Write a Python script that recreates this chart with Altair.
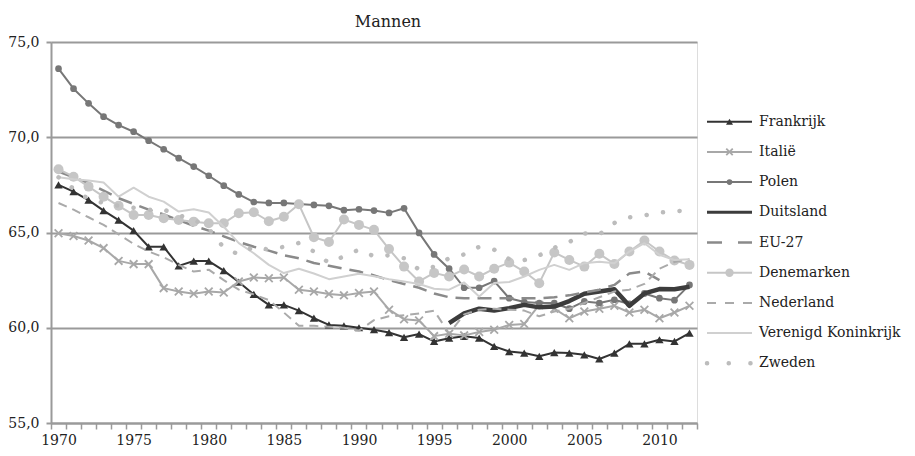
import altair as alt
import pandas as pd

years = list(range(1970, 2013))

frankrijk = [67.5, 67.15, 66.7, 66.15, 65.65, 65.1, 64.25, 64.25, 63.25, 63.5,
             63.5, 63.0, 62.4, 61.75, 61.2, 61.2, 60.9, 60.5, 60.15, 60.1,
             60.0, 59.9, 59.75, 59.5, 59.67, 59.28, 59.45, 59.55, 59.46, 59.02,
             58.75, 58.67, 58.5, 58.7, 58.67, 58.58, 58.36, 58.67, 59.16, 59.16,
             59.37, 59.28, 59.72]
italie = [64.96, 64.82, 64.58, 64.18, 63.51, 63.34, 63.34, 62.08, 61.9, 61.78,
          61.9, 61.85, 62.43, 62.64, 62.6, 62.64, 61.99, 61.9, 61.77, 61.7,
          61.82, 61.9, 60.95, 60.45, 60.38, 59.56, 59.68, 59.6, 59.78, 59.9,
          60.15, 60.2, 61.2, 61.0, 60.5, 60.85, 61.0, 61.15, 60.8, 60.95,
          60.5, 60.8, 61.15]
polen = [73.6, 72.55, 71.78, 71.08, 70.64, 70.29, 69.82, 69.37, 68.9, 68.46,
         67.98, 67.46, 67.0, 66.6, 66.55, 66.55, 66.5, 66.45, 66.4, 66.17,
         66.22, 66.15, 66.03, 66.27, 64.98, 63.85, 63.1, 62.1, 62.1, 62.45,
         61.55, 61.35, 61.3, 61.3, 61.0, 61.38, 61.3, 61.47, 61.25, 61.8,
         61.55, 61.45, 62.25]
duitsland = [None] * 26 + [60.24, 60.75, 61.0, 60.9, 61.03, 61.2, 61.07, 61.11,
                           61.4, 61.78, 61.9, 62.02, 61.15, 61.8, 62.03, 62.02, 62.15]
eu27 = [68.2, 67.9, 67.6, 67.2, 66.8, 66.5, 66.2, 65.95, 65.65, 65.35,
        65.1, 64.8, 64.5, 64.25, 64.05, 63.8, 63.65, 63.4, 63.25, 63.1,
        62.95, 62.75, 62.5, 62.3, 62.1, 61.8, 61.6, 61.55, 61.55, 61.55,
        61.55, 61.55, 61.55, 61.6, 61.7, 61.85, 62.0, 62.25, 62.85, 62.95,
        62.5, None, None]
denemarken = [68.32, 67.93, 67.41, 66.88, 66.4, 65.92, 65.92, 65.75, 65.66, 65.57,
              65.49, 65.49, 66.01, 66.06, 65.59, 65.83, 66.48, 64.75, 64.5, 65.68,
              65.4, 65.14, 64.13, 63.21, 62.43, 62.88, 62.69, 63.06, 62.69, 63.1,
              63.42, 62.95, 62.34, 63.95, 63.56, 63.21, 63.88, 63.35, 64.0, 64.58,
              64.0, 63.53, 63.3]
nederland = [66.55, 66.2, 65.8, 65.4, 64.9, 64.4, 64.0, 63.7, 63.3, 62.95,
             63.05, 62.5, 62.0, 61.75, 61.45, 60.8, 60.1, 60.1, 60.05, 60.0,
             59.85, 60.4, 60.6, 60.65, 60.75, 60.9, 59.7, 60.7, 60.95, 61.0,
             60.95, 60.9, 60.6, 60.85, 61.0, 61.3, 61.6, 61.9, 62.0, 62.3,
             63.1, 63.45, 63.6]
vk = [67.9, 67.8, 67.73, 67.62, 66.88, 67.35, 66.88, 66.62, 66.1, 66.22,
      66.05, 65.3, 64.44, 63.91, 63.3, 62.87, 63.1, 62.85, 62.55, 62.69,
      62.83, 62.7, 62.55, 62.43, 62.3, 62.05, 62.0, 62.38, 61.64, 62.35,
      62.4, 62.69, 63.04, 63.3, 63.04, 63.39, 63.47, 63.39, 64.0, 64.44,
      63.83, 63.56, 63.6]
zweden = [67.9, 67.3, 66.75, 66.55, 66.4, 66.3, 66.2, 66.2, 65.9, 65.7,
          65.2, 64.2, 63.85, 64.25, 64.1, 64.25, 64.45, 64.0, 63.4, 63.75,
          64.1, 63.75, 63.8, 63.65, 63.05, 63.2, 63.65, 63.85, 64.25, 64.1,
          63.6, 63.55, 63.8, 64.2, 64.5, 64.95, 64.9, 65.5, 65.8, 65.9,
          66.05, 66.1, 66.2]

y_ticks = [55, 60, 65, 70, 75]
x_label_years = [1970, 1975, 1980, 1985, 1990, 1995, 2000, 2005, 2010]

FONT = "DejaVu Serif"
GRID = "#9a9a9a"

series = [
    ("Frankrijk", frankrijk, dict(color="#333333", width=2, dash=None, shape="triangle-up", size=70, filled=True)),
    ("Italië", italie, dict(color="#a8a8a8", width=2, dash=None, shape="M-1,-1L1,1M1,-1L-1,1", size=60, filled=False)),
    ("Polen", polen, dict(color="#777777", width=2, dash=None, shape="circle", size=45, filled=True)),
    ("Duitsland", duitsland, dict(color="#3c3c3c", width=4.5, dash=None, shape=None, legend_width=3)),
    ("EU-27", eu27, dict(color="#8a8a8a", width=2.5, dash=[14, 8], shape=None)),
    ("Denemarken", denemarken, dict(color="#c6c6c6", width=2, dash=None, shape="circle", size=100, filled=True)),
    ("Nederland", nederland, dict(color="#aaaaaa", width=2, dash=[9, 6], shape=None)),
    ("Verenigd Koninkrijk", vk, dict(color="#d0d0d0", width=2, dash=None, shape=None)),
    ("Zweden", zweden, dict(color="#bcbcbc", width=4.5, dash=[0.1, 16.5], shape=None, cap="round")),
]

rows = []
for name, vals, _ in series:
    for yr, v in zip(years, vals):
        if v is not None:
            rows.append({"serie": name, "jaar": yr, "waarde": v})
df = pd.DataFrame(rows)

x_values = [y + 0.5 for y in range(1969, 2013)] + x_label_years
x_enc = alt.X(
    "jaar:Q",
    scale=alt.Scale(domain=[1969.5, 2012.5], nice=False, zero=False),
    axis=alt.Axis(
        values=x_values, title=None, grid=False,
        labelExpr="datum.value % 5 === 0 ? format(datum.value, 'd') : ''",
        tickOpacity={"condition": {"test": "datum.value % 5 === 0", "value": 0}, "value": 1},
        tickSize=6, tickColor=GRID, tickWidth=1.5,
        domainColor=GRID, domainWidth=2,
        labelFont=FONT, labelFontSize=14, labelColor="#222222",
        labelPadding=4, labelOverlap=False, labelBound=False, labelFlush=False,
    ),
)
y_enc = alt.Y(
    "waarde:Q",
    scale=alt.Scale(domain=[55, 75], nice=False, zero=False),
    axis=alt.Axis(
        values=y_ticks, title=None, grid=True, gridColor=GRID, gridWidth=2,
        labelExpr="replace(format(datum.value, '.1f'), '.', ',')",
        tickSize=5, tickColor=GRID, tickWidth=2,
        domainColor=GRID, domainWidth=2,
        labelFont=FONT, labelFontSize=14, labelColor="#222222", labelPadding=7,
    ),
)

layers = []
base = alt.Chart(df)
for name, vals, st in series:
    line_kw = dict(color=st["color"], strokeWidth=st["width"], strokeJoin="round")
    if st.get("dash"):
        line_kw["strokeDash"] = st["dash"]
    if st.get("cap"):
        line_kw["strokeCap"] = st["cap"]
    sub = base.transform_filter(alt.datum.serie == name)
    layers.append(sub.mark_line(**line_kw).encode(x=x_enc, y=y_enc))
    if st.get("shape"):
        pt_kw = dict(shape=st["shape"], size=st["size"], filled=st["filled"], opacity=1, color=st["color"])
        if not st["filled"]:
            pt_kw["strokeWidth"] = 1.8
        layers.append(sub.mark_point(**pt_kw).encode(x=x_enc, y=y_enc))

# legend
one = pd.DataFrame({"a": [0]})
for i, (name, vals, st) in enumerate(series):
    ly = 79.7 + 30.2 * i
    rule_kw = dict(color=st["color"], strokeWidth=st.get("legend_width", st["width"]))
    if st.get("dash"):
        d = st["dash"]
        if name == "Zweden":
            d = [0.1, 21.6]
        elif name == "EU-27":
            d = [15, 16]
        elif name == "Nederland":
            d = [9, 9]
        rule_kw["strokeDash"] = d
    if st.get("cap"):
        rule_kw["strokeCap"] = st["cap"]
    layers.append(alt.Chart(one).mark_rule(**rule_kw).encode(
        x=alt.value(656), x2=alt.value(701), y=alt.value(ly)))
    if st.get("shape"):
        pt_kw = dict(shape=st["shape"], size=st["size"] * 0.7, filled=st["filled"], opacity=1, color=st["color"])
        if not st["filled"]:
            pt_kw["strokeWidth"] = 1.8
        layers.append(alt.Chart(one).mark_point(**pt_kw).encode(
            x=alt.value(678.5), y=alt.value(ly)))
    layers.append(alt.Chart(one).mark_text(
        align="left", baseline="middle", font=FONT, fontSize=14, color="#222222").encode(
        x=alt.value(708), y=alt.value(ly), text=alt.value(name)))

chart = alt.layer(*layers).properties(
    width=646, height=381,
    title=alt.TitleParams("Mannen", font=FONT, fontSize=16, fontWeight="normal",
                          color="#222222", offset=5, dx=14),
    autosize=alt.AutoSizeParams(type="none"),
    padding={"left": 43, "top": 34, "right": 210, "bottom": 25},
).configure_view(stroke=None).configure(background="white")

chart.save("out.html", embed_options={"renderer": "svg", "actions": False})
